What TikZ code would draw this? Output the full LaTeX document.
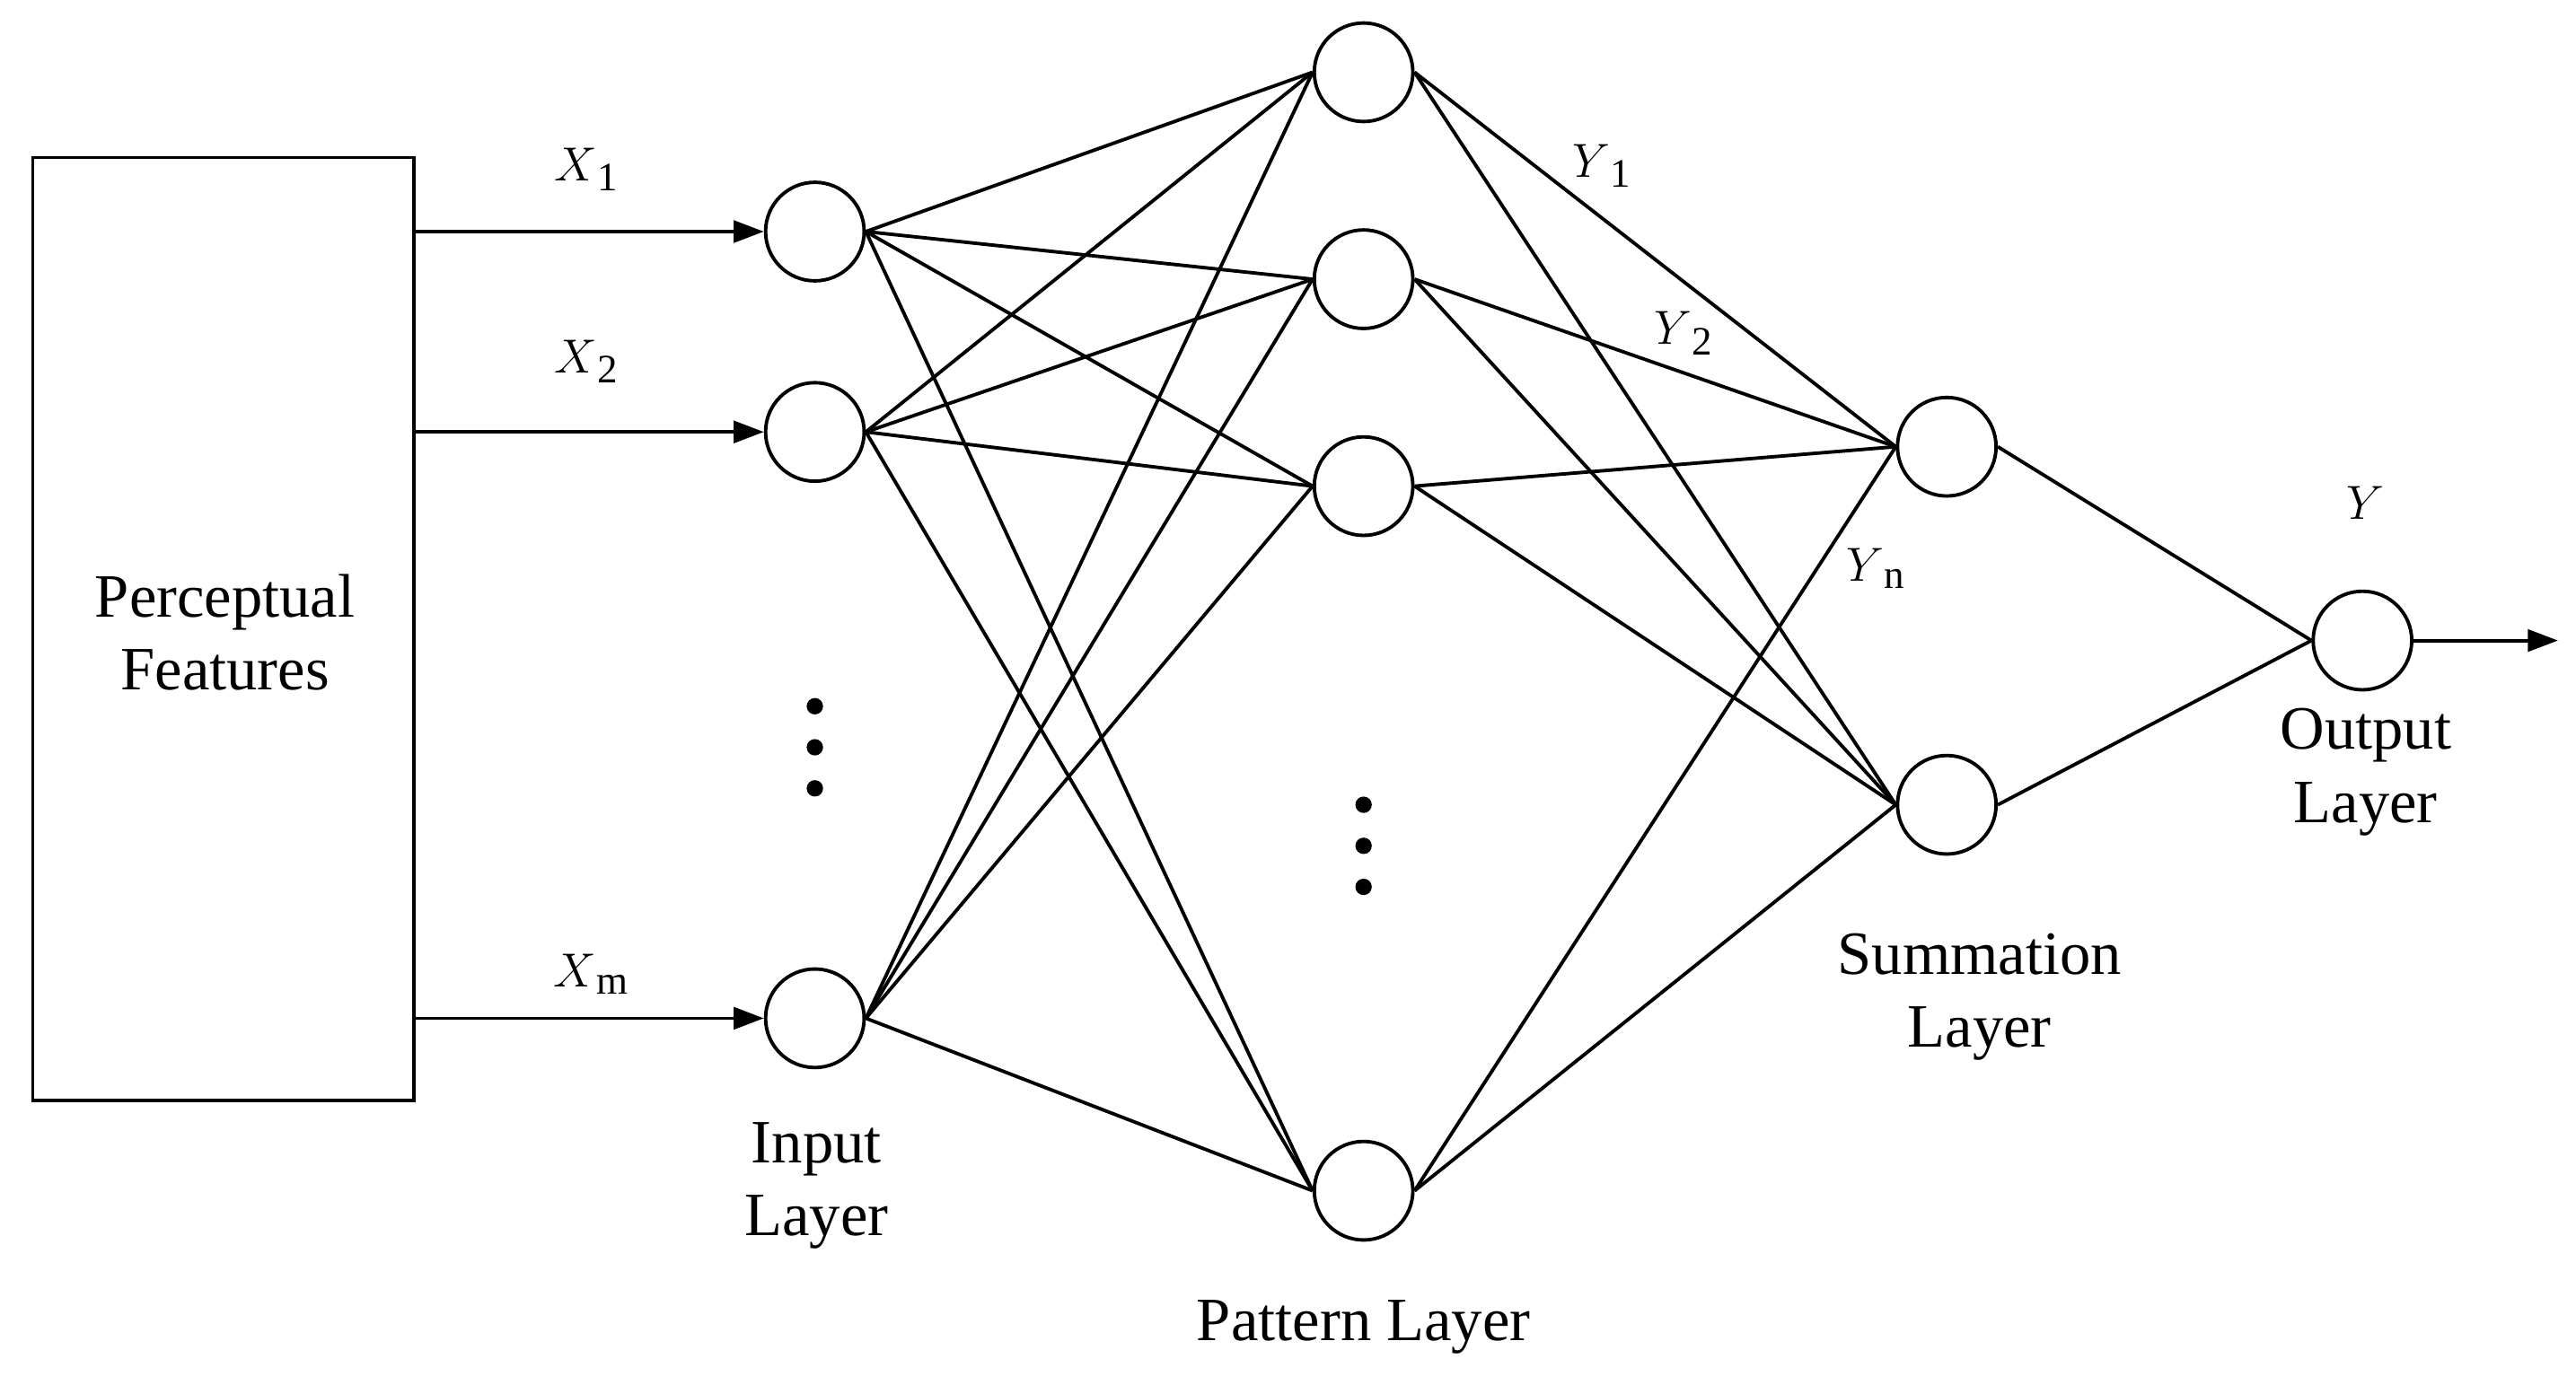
\documentclass[tikz,border=0pt]{standalone}
\usepackage{fontspec}
\setmainfont{Liberation Serif}
\usetikzlibrary{arrows.meta}
\begin{document}
\begin{tikzpicture}[x=0.03cm,y=-0.03cm,line width=1.8pt,
  neu/.style={circle,draw,minimum size=1.8cm,inner sep=0pt},
  lab/.style={font=\fontsize{32}{38}\selectfont,align=center},
  var/.style={font=\fontsize{30}{36}\selectfont},
  dot/.style={circle,fill,inner sep=0pt,minimum size=0.3cm},
  arr/.style={-{Triangle[length=0.55cm,width=0.4cm]}}]
\useasboundingbox (0,0) rectangle (1568,843);
\node[draw,minimum width=232*0.03cm,minimum height=574*0.03cm,line width=1.5pt] (box) at (136,383) {};
\node[lab] (pf) at (137,385) {Perceptual\\Features};
\node[neu] (i1) at (496,141) {};
\node[neu] (i2) at (496,263) {};
\node[neu] (i3) at (496,620) {};
\node[neu] (p1) at (830,44) {};
\node[neu] (p2) at (830,170) {};
\node[neu] (p3) at (830,296) {};
\node[neu] (p4) at (830,725) {};
\node[neu] (s1) at (1185,272) {};
\node[neu] (s2) at (1185,490) {};
\node[neu] (o) at (1438,390) {};
\coordinate (out) at (1557,390);
\foreach \y [count=\k] in {430,455,480}{\node[dot] (da\k) at (496,\y) {};}
\foreach \y [count=\k] in {490,515,540}{\node[dot] (db\k) at (830,\y) {};}
\coordinate (b1) at (252,141);\coordinate (b2) at (252,263);\coordinate (b3) at (252,620);
\draw[arr] (b1) -- (i1);
\draw[arr] (b2) -- (i2);
\draw[arr] (b3) -- (i3);
\foreach \i in {i1,i2,i3}{\foreach \p in {p1,p2,p3,p4}{\draw (\i.east) -- (\p.west);}}
\foreach \p in {p1,p2,p3,p4}{\foreach \s in {s1,s2}{\draw (\p.east) -- (\s.west);}}
\draw (s1.east) -- (o.west);
\draw (s2.east) -- (o.west);
\draw[arr] (o) -- (out);
\node[var] (x1) at (357,103) {$X$\textsubscript{1}};
\node[var] (x2) at (357,220) {$X$\textsubscript{2}};
\node[var] (xm) at (360,593) {$X$\textsubscript{m}};
\node[var] (y1) at (975,101) {$Y$\textsubscript{1}};
\node[var] (y2) at (1025,203) {$Y$\textsubscript{2}};
\node[var] (yn) at (1142,346) {$Y$\textsubscript{n}};
\node[var] (y) at (1440,306) {$Y$};
\node[lab] (il) at (497,722) {Input\\Layer};
\node[lab] (pl) at (830,808) {Pattern Layer};
\node[lab] (sl) at (1205,607) {Summation\\Layer};
\node[lab] (ol) at (1440,470) {Output\\Layer};
\end{tikzpicture}
\end{document}
